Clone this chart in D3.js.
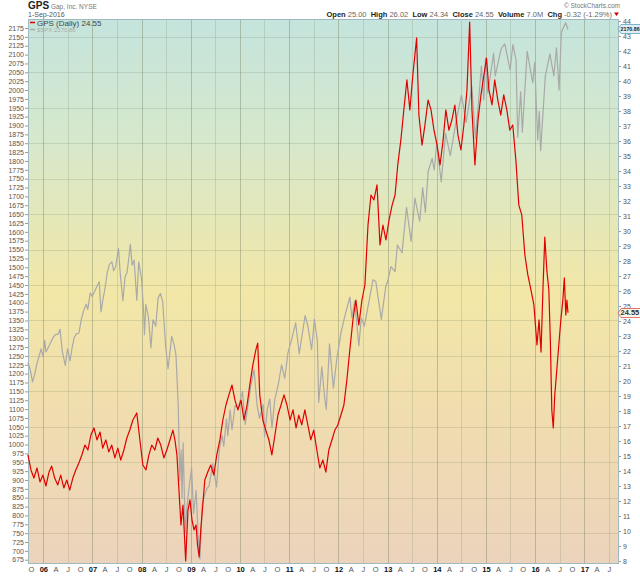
<!DOCTYPE html>
<html>
<head>
<meta charset="utf-8">
<script src="https://cdn.jsdelivr.net/npm/d3@7"></script>
<style>
	body { margin: 0; background: #fff; }
	svg { display: block; font-family: "Liberation Sans", Arial, sans-serif; }
</style>
</head>
<body>
<div id="chart"></div>
<script>

// GPS daily close (right axis)
const gpsDates = [
	'2005-09-08','2005-10-01','2005-10-23','2005-11-15','2005-12-07','2005-12-29',
	'2006-01-20','2006-02-12','2006-03-04','2006-03-26','2006-04-18','2006-05-10',
	'2006-06-02','2006-06-24','2006-07-16','2006-08-08','2006-08-30','2006-09-22',
	'2006-10-14','2006-11-06','2006-11-28','2006-12-20','2007-01-12','2007-02-03',
	'2007-02-26','2007-03-18','2007-04-10','2007-05-02','2007-05-24','2007-06-16',
	'2007-07-08','2007-07-30','2007-08-22','2007-09-13','2007-10-05','2007-10-28',
	'2007-11-26','2007-12-19','2008-01-10','2008-02-02','2008-02-24','2008-03-16',
	'2008-04-08','2008-04-30','2008-05-22','2008-06-14','2008-07-06','2008-07-29',
	'2008-08-20','2008-09-04','2008-09-19','2008-10-04','2008-10-19','2008-11-03',
	'2008-11-23','2008-12-10','2008-12-25','2009-01-09','2009-01-24','2009-02-08',
	'2009-02-19','2009-03-03','2009-03-15','2009-03-30','2009-04-14','2009-05-06',
	'2009-05-28','2009-06-20','2009-07-12','2009-08-04','2009-08-26','2009-09-18',
	'2009-10-10','2009-11-02','2009-11-24','2009-12-16','2010-01-08','2010-01-30',
	'2010-02-22','2010-03-14','2010-04-06','2010-04-28','2010-05-12','2010-05-27',
	'2010-06-19','2010-07-11','2010-08-03','2010-08-25','2010-09-17','2010-10-09',
	'2010-11-01','2010-11-23','2010-12-15','2011-01-07','2011-01-29','2011-02-21',
	'2011-03-13','2011-04-04','2011-04-27','2011-05-19','2011-06-10','2011-07-02',
	'2011-07-25','2011-08-16','2011-09-08','2011-09-30','2011-10-22','2011-11-14',
	'2011-12-06','2011-12-28','2012-01-20','2012-02-11','2012-03-04','2012-03-26',
	'2012-04-18','2012-05-10','2012-06-01','2012-06-24','2012-07-16','2012-08-08',
	'2012-08-30','2012-09-21','2012-10-14','2012-11-05','2012-11-27','2012-12-19',
	'2013-01-11','2013-02-03','2013-02-25','2013-03-17','2013-04-09','2013-05-01',
	'2013-05-24','2013-06-15','2013-07-07','2013-08-04','2013-08-21','2013-09-13',
	'2013-10-05','2013-10-28','2013-11-19','2013-12-11','2014-01-03','2014-01-25',
	'2014-02-17','2014-03-09','2014-04-01','2014-04-23','2014-05-15','2014-06-07',
	'2014-06-29','2014-07-21','2014-08-13','2014-09-02','2014-09-19','2014-10-11',
	'2014-11-03','2014-11-25','2014-12-17','2015-01-05','2015-01-23','2015-02-15',
	'2015-03-07','2015-03-30','2015-04-21','2015-05-13','2015-06-05','2015-06-27',
	'2015-07-19','2015-08-11','2015-09-02','2015-09-24','2015-10-17','2015-11-08',
	'2015-12-01','2015-12-23','2016-01-15','2016-01-30','2016-02-14','2016-02-28',
	'2016-03-13','2016-03-28','2016-04-12','2016-04-23','2016-05-04','2016-05-15',
	'2016-05-26','2016-06-10','2016-06-25','2016-07-10','2016-07-25','2016-08-05',
	'2016-08-16','2016-08-24','2016-09-01'
];
const gpsClose = [
	15.07, 14.07, 13.53, 14.2, 13.27, 13.73,
	13.0, 13.93, 14.33, 13.53, 13.07, 13.73,
	12.87, 13.4, 12.73, 13.53, 14.07, 14.53,
	15.07, 15.73, 15.4, 16.4, 16.87, 16.07,
	16.6, 15.53, 16.07, 15.27, 15.73, 14.87,
	15.53, 14.73, 15.4, 16.2, 16.73, 17.4,
	17.87, 16.07, 14.4, 14.07, 15.07, 15.73,
	15.4, 16.2, 15.73, 14.87, 15.4, 16.07,
	16.73, 16.07, 15.07, 12.73, 10.4, 11.73,
	8.0, 11.4, 12.07, 10.73, 10.07, 10.4,
	9.07, 8.27, 10.07, 11.73, 13.4, 13.93,
	14.4, 13.73, 15.07, 16.07, 17.4, 18.4,
	19.07, 19.73, 18.73, 18.07, 18.73, 17.4,
	18.4, 19.73, 21.07, 22.07, 22.53, 19.07,
	17.4, 16.73, 16.07, 15.07, 16.4, 17.73,
	18.4, 19.07, 18.4, 17.4, 18.07, 16.87,
	17.73, 17.07, 18.07, 17.07, 16.07, 16.73,
	15.4, 14.2, 14.73, 13.93, 15.4, 16.07,
	16.73, 17.07, 17.73, 18.4, 20.07, 22.07,
	24.07, 25.4, 23.73, 25.4, 26.4, 30.4,
	32.4, 32.07, 33.07, 29.07, 30.4, 29.4,
	30.73, 31.73, 32.4, 34.4, 36.07, 38.07,
	40.07, 38.07, 40.4, 42.87, 37.73, 35.73,
	37.07, 38.73, 38.07, 36.73, 35.73, 34.4,
	36.07, 38.07, 36.73, 37.4, 38.4, 36.4,
	35.4, 37.07, 39.4, 43.93, 38.07, 34.4,
	37.4, 39.07, 40.4, 41.53, 39.4, 38.4,
	40.07, 38.73, 37.73, 39.07, 38.07, 36.73,
	37.07, 34.73, 31.73, 31.07, 28.4, 27.07,
	26.07, 25.07, 22.4, 24.07, 21.93, 26.07,
	29.6, 27.4, 26.07, 22.73, 18.07, 16.87,
	19.07, 20.73, 22.4, 24.07, 25.4, 26.87,
	24.4, 25.4, 24.55
];

// S&P 500 close (left axis)
const spxDates = [
	'2005-09-08','2005-09-23','2005-10-13','2005-10-28','2005-11-15','2005-11-30',
	'2005-12-15','2005-12-30','2006-01-11','2006-01-20','2006-02-15','2006-03-01',
	'2006-03-20','2006-04-05','2006-04-20','2006-05-05','2006-05-22','2006-06-13',
	'2006-06-30','2006-07-18','2006-08-01','2006-08-18','2006-09-05','2006-09-22',
	'2006-10-10','2006-10-27','2006-11-15','2006-11-27','2006-12-15','2006-12-29',
	'2007-01-16','2007-02-01','2007-02-20','2007-03-05','2007-03-20','2007-04-05',
	'2007-04-20','2007-05-07','2007-05-25','2007-06-07','2007-06-22','2007-07-13',
	'2007-07-26','2007-08-15','2007-08-31','2007-09-14','2007-09-28','2007-10-09',
	'2007-10-22','2007-11-06','2007-11-26','2007-12-10','2007-12-31','2008-01-15',
	'2008-01-22','2008-02-01','2008-02-20','2008-03-10','2008-03-25','2008-04-15',
	'2008-05-02','2008-05-19','2008-06-05','2008-06-27','2008-07-15','2008-07-31',
	'2008-08-11','2008-08-29','2008-09-12','2008-09-29','2008-10-10','2008-10-20',
	'2008-10-27','2008-11-04','2008-11-20','2008-12-01','2008-12-15','2009-01-06',
	'2009-01-20','2009-02-09','2009-02-23','2009-03-09','2009-03-26','2009-04-13',
	'2009-05-01','2009-05-15','2009-06-12','2009-07-10','2009-07-31','2009-08-21',
	'2009-09-02','2009-09-22','2009-10-02','2009-10-19','2009-11-02','2009-11-25',
	'2009-12-18','2010-01-19','2010-02-08','2010-02-26','2010-03-22','2010-04-15',
	'2010-05-07','2010-05-25','2010-06-21','2010-07-02','2010-07-23','2010-08-09',
	'2010-08-26','2010-09-15','2010-10-15','2010-11-05','2010-11-29','2010-12-22',
	'2011-01-18','2011-02-18','2011-03-16','2011-04-29','2011-05-20','2011-06-16',
	'2011-07-07','2011-07-29','2011-08-08','2011-08-31','2011-09-22','2011-10-03',
	'2011-10-27','2011-11-25','2011-12-20','2012-01-20','2012-02-17','2012-03-26',
	'2012-04-10','2012-05-01','2012-06-01','2012-06-19','2012-07-12','2012-08-16',
	'2012-09-14','2012-10-05','2012-11-15','2012-12-18','2013-01-02','2013-01-25',
	'2013-02-25','2013-03-14','2013-04-18','2013-05-21','2013-06-24','2013-07-22',
	'2013-08-27','2013-09-18','2013-10-08','2013-10-29','2013-11-27','2013-12-13',
	'2013-12-31','2014-02-03','2014-03-07','2014-04-11','2014-05-28','2014-07-03',
	'2014-08-07','2014-09-18','2014-10-15','2014-11-28','2014-12-16','2014-12-29',
	'2015-01-15','2015-02-27','2015-03-11','2015-04-24','2015-05-21','2015-06-29',
	'2015-07-20','2015-08-12','2015-08-25','2015-09-16','2015-09-28','2015-11-03',
	'2015-12-14','2015-12-29','2016-01-20','2016-02-01','2016-02-11','2016-03-17',
	'2016-04-20','2016-05-19','2016-06-08','2016-06-27','2016-07-14','2016-08-15',
	'2016-09-01'
];
const spxClose = [
	1232, 1215, 1177, 1198, 1229, 1249,
	1270, 1248, 1294, 1261, 1280, 1292,
	1305, 1311, 1311, 1325, 1262, 1223,
	1270, 1236, 1270, 1302, 1313, 1314,
	1353, 1377, 1396, 1381, 1427, 1418,
	1431, 1445, 1459, 1374, 1410, 1443,
	1484, 1509, 1515, 1490, 1502, 1553,
	1482, 1406, 1474, 1484, 1527, 1565,
	1506, 1520, 1407, 1515, 1468, 1380,
	1310, 1395, 1360, 1273, 1352, 1334,
	1413, 1426, 1404, 1278, 1214, 1267,
	1305, 1282, 1252, 1106, 899, 985,
	848, 1005, 752, 816, 868, 935,
	805, 870, 743, 677, 832, 858,
	877, 882, 946, 880, 987, 1026,
	995, 1072, 1025, 1097, 1042, 1110,
	1102, 1150, 1057, 1104, 1166, 1211,
	1111, 1074, 1113, 1022, 1102, 1128,
	1047, 1125, 1176, 1225, 1187, 1258,
	1295, 1343, 1256, 1364, 1333, 1268,
	1353, 1292, 1119, 1219, 1129, 1099,
	1284, 1159, 1241, 1315, 1361, 1416,
	1358, 1405, 1278, 1357, 1334, 1405,
	1465, 1460, 1353, 1446, 1462, 1502,
	1488, 1563, 1541, 1669, 1573, 1695,
	1630, 1725, 1655, 1771, 1807, 1775,
	1848, 1741, 1878, 1815, 1920, 1985,
	1909, 2011, 1862, 2067, 1972, 2090,
	1992, 2104, 2040, 2117, 2130, 2057,
	2128, 2086, 1867, 1995, 1881, 2109,
	2021, 2078, 1859, 1940, 1829, 2040,
	2102, 2040, 2119, 2000, 2163, 2190,
	2170.86
];

// axis ticks
const spxTicks = d3.range(675, 2176, 25);
const spxGrid = d3.range(750, 2151, 100);
const gpsTicks = d3.range(8, 45, 1);
const quarterLetters = { 3: 'A', 6: 'J', 9: 'O' };

// header texts
const quoteLabels = ['Open', 'High', 'Low', 'Close', 'Volume', 'Chg'];
const quoteValues = ['25.00', '26.02', '24.34', '24.55', '7.0M', '-0.32 (-1.29%)'];

class StockChart {

	constructor(options) {
		this.element = options.element;
		this.parse = d3.timeParse('%Y-%m-%d');
		this.gps = gpsDates.map((d, i) => ({ date: this.parse(d), value: gpsClose[i] }));
		this.spx = spxDates.map((d, i) => ({ date: this.parse(d), value: spxClose[i] }));
		this.draw();
	}

	draw() {

		this.width = 640;
		this.height = 576;
		this.plot = { left: 28, right: 619, top: 19, bottom: 564 };

		this.createSVG();
		this.createScales();
		this.createBackground();
		this.createGrid();
		this.createAxes();
		this.createLines();
		this.createLegend();
		this.createHeader();
		this.createMarkers();

	}

	createSVG() {
		this.svg = d3.select(this.element)
			.append('svg')
				.attr('width', this.width)
				.attr('height', this.height);
	}

	createScales() {

		this.xScale = d3.scaleTime()
			.domain([this.parse('2005-09-09'), this.parse('2017-09-15')])
			.range([this.plot.left, this.plot.right]);

		this.spxScale = d3.scaleLinear()
			.domain([663, 2200.4])
			.range([this.plot.bottom, this.plot.top]);

		this.gpsScale = d3.scaleLinear()
			.domain([7.8, 44.133])
			.range([this.plot.bottom, this.plot.top]);

	}

	createBackground() {

		var grad = this.svg.append('defs')
			.append('linearGradient')
				.attr('id', 'bg')
				.attr('x1', 0).attr('y1', 0)
				.attr('x2', 0).attr('y2', 1);

		[['0%', '#c4e4dd'], ['22%', '#d6e8cc'], ['50%', '#f2e7a7'], ['75%', '#f0dcb0'], ['100%', '#ebd3bc']]
			.forEach(s => grad.append('stop').attr('offset', s[0]).attr('stop-color', s[1]));

		this.svg.append('rect')
			.attr('x', this.plot.left)
			.attr('y', this.plot.top)
			.attr('width', this.plot.right - this.plot.left)
			.attr('height', this.plot.bottom - this.plot.top)
			.attr('fill', 'url(#bg)');

	}

	createGrid() {

		var that = this;
		var grid = this.svg.append('g').attr('class', 'grid');

		grid.selectAll('line.h')
			.data(spxGrid)
			.join('line')
				.attr('class', 'h')
				.attr('x1', this.plot.left)
				.attr('x2', this.plot.right)
				.attr('y1', d => Math.round(that.spxScale(d)) + 0.5)
				.attr('y2', d => Math.round(that.spxScale(d)) + 0.5)
				.attr('stroke', 'rgba(120,130,100,0.22)');

		var halfYears = d3.timeMonth.every(6).range(this.parse('2006-01-01'), this.parse('2017-08-01'));

		grid.selectAll('line.v')
			.data(halfYears)
			.join('line')
				.attr('class', 'v')
				.attr('x1', d => Math.round(that.xScale(d)) + 0.5)
				.attr('x2', d => Math.round(that.xScale(d)) + 0.5)
				.attr('y1', this.plot.top)
				.attr('y2', this.plot.bottom)
				.attr('stroke', d => d.getMonth() === 0 ? 'rgba(110,120,90,0.38)' : 'rgba(120,130,100,0.22)');

		this.svg.append('rect')
			.attr('x', this.plot.left + 0.5)
			.attr('y', this.plot.top + 0.5)
			.attr('width', this.plot.right - this.plot.left - 1)
			.attr('height', this.plot.bottom - this.plot.top - 1)
			.attr('fill', 'none')
			.attr('stroke', '#9fb9c0');

	}

	createAxes() {

		var quarters = d3.timeMonth.every(3).range(this.parse('2005-10-01'), this.parse('2017-08-01'));

		this.xAxis = d3.axisBottom(this.xScale)
			.tickValues(quarters)
			.tickSize(0)
			.tickPadding(3)
			.tickFormat(d => d.getMonth() === 0 ? d3.timeFormat('%y')(d) : quarterLetters[d.getMonth()]);

		var gx = this.svg.append('g')
			.attr('class', 'xAxis')
			.attr('transform', `translate(0, ${this.plot.bottom})`)
			.call(this.xAxis);
		gx.select('.domain').remove();
		gx.selectAll('text')
			.attr('font-size', 7.5)
			.attr('font-weight', d => d.getMonth() === 0 ? 'bold' : 'normal')
			.attr('fill', d => d.getMonth() === 0 ? '#111' : '#555');

		this.yAxis = d3.axisLeft(this.spxScale)
			.tickValues(spxTicks)
			.tickSize(3)
			.tickPadding(1)
			.tickFormat(d3.format('d'));

		var gl = this.svg.append('g')
			.attr('class', 'yAxis')
			.attr('transform', `translate(${this.plot.left}, 0)`)
			.call(this.yAxis);
		gl.select('.domain').remove();
		gl.selectAll('line').attr('stroke', '#999');
		gl.selectAll('text').attr('font-size', 7).attr('fill', '#555');

		this.gpsAxis = d3.axisRight(this.gpsScale)
			.tickValues(gpsTicks)
			.tickSize(2)
			.tickPadding(2)
			.tickFormat(d3.format('d'));

		var gr = this.svg.append('g')
			.attr('class', 'gpsAxis')
			.attr('transform', `translate(${this.plot.right}, 0)`)
			.call(this.gpsAxis);
		gr.select('.domain').remove();
		gr.selectAll('line').attr('stroke', '#999');
		gr.selectAll('text').attr('font-size', 7).attr('fill', '#555');

	}

	createLines() {

		var that = this;

		var spxLine = d3.line()
			.x(d => that.xScale(d.date))
			.y(d => that.spxScale(d.value));

		var gpsLine = d3.line()
			.x(d => that.xScale(d.date))
			.y(d => that.gpsScale(d.value));

		this.svg.append('path')
			.datum(this.spx)
			.attr('d', spxLine)
			.attr('fill', 'none')
			.attr('stroke', '#a9a9a9')
			.attr('stroke-width', 1.2)
			.attr('stroke-linejoin', 'round');

		this.svg.append('path')
			.datum(this.gps)
			.attr('d', gpsLine)
			.attr('fill', 'none')
			.attr('stroke', '#e00000')
			.attr('stroke-width', 1.2)
			.attr('stroke-linejoin', 'round');

	}

	createLegend() {

		var lg = this.svg.append('g').attr('class', 'legend');

		lg.append('line')
			.attr('x1', 30).attr('x2', 35)
			.attr('y1', 22.5).attr('y2', 22.5)
			.attr('stroke', '#e00000').attr('stroke-width', 1.5);
		lg.append('text')
			.attr('x', 37).attr('y', 25.5)
			.attr('font-size', 8).attr('fill', '#444')
			.text('GPS (Daily) ' + gpsClose[gpsClose.length - 1].toFixed(2));

		lg.append('line')
			.attr('x1', 30).attr('x2', 35)
			.attr('y1', 29.5).attr('y2', 29.5)
			.attr('stroke', '#aaa').attr('stroke-width', 1.5);
		lg.append('text')
			.attr('x', 37).attr('y', 32)
			.attr('font-size', 6).attr('fill', '#aaa')
			.text('$SPX ' + spxClose[spxClose.length - 1].toFixed(2));

	}

	createHeader() {

		var h = this.svg.append('g').attr('class', 'header');

		var title = h.append('text')
			.attr('x', 28).attr('y', 9);
		title.append('tspan')
			.attr('font-size', 10).attr('font-weight', 'bold').attr('fill', '#222')
			.text('GPS');
		title.append('tspan')
			.attr('font-size', 6.5).attr('fill', '#777')
			.text(' Gap, Inc. NYSE');

		h.append('text')
			.attr('x', 28).attr('y', 17)
			.attr('font-size', 7).attr('fill', '#555')
			.text('1-Sep-2016');

		h.append('text')
			.attr('x', 620).attr('y', 7.5)
			.attr('text-anchor', 'end')
			.attr('font-size', 6.5).attr('fill', '#777')
			.text('\u00a9 StockCharts.com');

		var quote = h.append('text')
			.attr('x', 612).attr('y', 17)
			.attr('text-anchor', 'end')
			.attr('font-size', 7.5)
			.attr('xml:space', 'preserve');
		quoteLabels.forEach((label, i) => {
			quote.append('tspan')
				.attr('font-weight', 'bold').attr('fill', '#222')
				.text((i ? '  ' : '') + label + ' ');
			quote.append('tspan')
				.attr('fill', '#666')
				.text(quoteValues[i]);
		});

		h.append('path')
			.attr('d', 'M614,12.5 L619,12.5 L616.5,16 Z')
			.attr('fill', '#c00');

	}

	createMarkers() {

		var that = this;
		var markers = [
			{ y: this.spxScale(spxClose[spxClose.length - 1]), text: spxClose[spxClose.length - 1].toFixed(2), fill: '#dceff4', stroke: '#5f9fbf', color: '#123' },
			{ y: this.gpsScale(gpsClose[gpsClose.length - 1]), text: gpsClose[gpsClose.length - 1].toFixed(2), fill: '#fbf6e6', stroke: '#e05050', color: '#333' }
		];

		var g = this.svg.append('g').attr('class', 'markers');

		markers.forEach(m => {
			var cy = Math.round(m.y);
			g.append('path')
				.attr('d', `M${that.plot.right - 1},${cy} L${that.plot.right + 2},${cy - 4.5} L642,${cy - 4.5} L642,${cy + 4.5} L${that.plot.right + 2},${cy + 4.5} Z`)
				.attr('fill', m.fill)
				.attr('stroke', m.stroke)
				.attr('stroke-width', 0.8);
			g.append('text')
				.attr('x', that.plot.right + 1.5)
				.attr('y', cy + 2.4)
				.attr('font-size', m.text.length > 5 ? 5.3 : 7.5)
				.attr('font-weight', 'bold')
				.attr('fill', m.color)
				.text(m.text);
		});

	}

}

new StockChart({ element: '#chart' });

</script>
</body>
</html>
